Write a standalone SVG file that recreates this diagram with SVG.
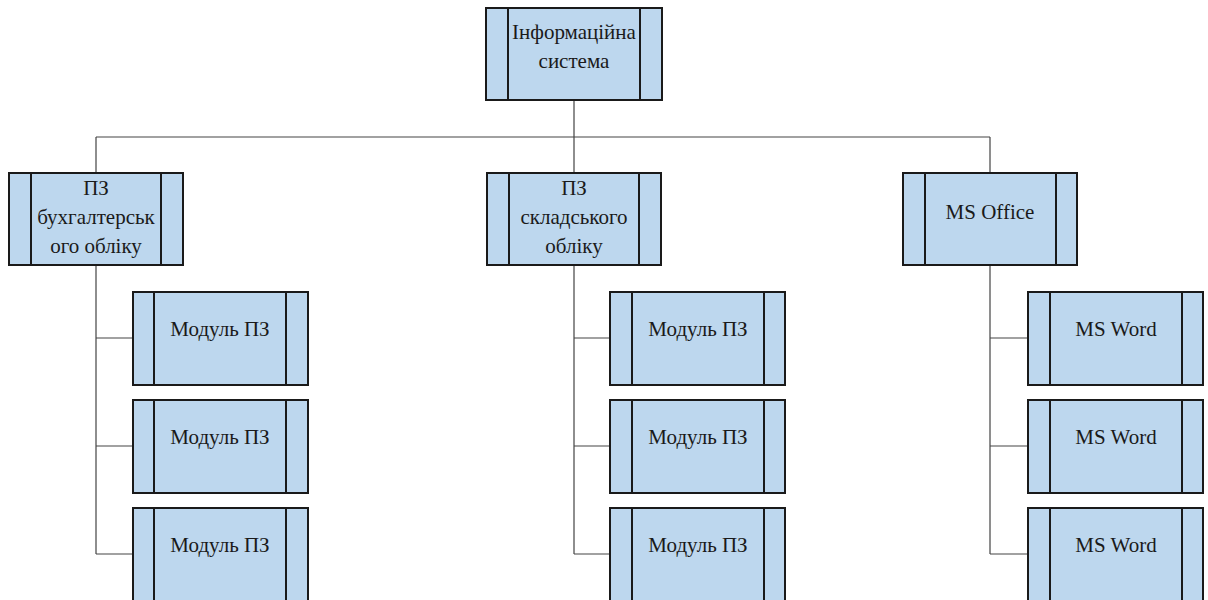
<svg xmlns="http://www.w3.org/2000/svg" width="1208" height="600" viewBox="0 0 1208 600">
<defs>
<style>
.box{fill:#bdd7ee;stroke:#1a1a1a;stroke-width:2}
.in{stroke:#1a1a1a;stroke-width:2}
.t{font-family:'Liberation Serif','DejaVu Serif',serif;font-size:21px;fill:#1a1a1a;text-anchor:middle}
.c{fill:none;stroke:#444;stroke-width:1.2}
</style>
</defs>
<rect width="1208" height="600" fill="#fff"/>
<g id="connectors">
<path class="c" d="M574 100V137M96 137H990M96 137V173M574 137V173M990 137V173"/>
<path class="c" d="M96 265V554M96 338H133M96 446H133M96 554H133"/>
<path class="c" d="M574 265V554M574 338H610M574 446H610M574 554H610"/>
<path class="c" d="M990 265V554M990 338H1028M990 446H1028M990 554H1028"/>
</g>
<g id="n-root"><rect class="box" x="486" y="8" width="176" height="92"/><path class="in" d="M508 8V100M640 8V100"/><text class="t" x="574" y="39">Інформаційна</text><text class="t" x="574" y="68">система</text></g>
<g id="n-buh"><rect class="box" x="9" y="173" width="174" height="92"/><path class="in" d="M31 173V265M161 173V265"/><text class="t" x="96" y="195">ПЗ</text><text class="t" x="96" y="224">бухгалтерськ</text><text class="t" x="96" y="253">ого обліку</text></g>
<g id="n-skl"><rect class="box" x="487" y="173" width="174" height="92"/><path class="in" d="M509 173V265M639 173V265"/><text class="t" x="574" y="195">ПЗ</text><text class="t" x="574" y="224">складського</text><text class="t" x="574" y="253">обліку</text></g>
<g id="n-office"><rect class="box" x="903" y="173" width="174" height="92"/><path class="in" d="M925 173V265M1056 173V265"/><text class="t" x="990" y="219">MS Office</text></g>
<g id="n-m1"><rect class="box" x="133" y="292" width="175" height="93"/><path class="in" d="M154 292V385M286 292V385"/><text class="t" x="220" y="336">Модуль ПЗ</text></g>
<g id="n-m2"><rect class="box" x="133" y="400" width="175" height="93"/><path class="in" d="M154 400V493M286 400V493"/><text class="t" x="220" y="444">Модуль ПЗ</text></g>
<g id="n-m3"><rect class="box" x="133" y="508" width="175" height="93"/><path class="in" d="M154 508V601M286 508V601"/><text class="t" x="220" y="552">Модуль ПЗ</text></g>
<g id="n-m4"><rect class="box" x="610" y="292" width="175" height="93"/><path class="in" d="M632 292V385M764 292V385"/><text class="t" x="698" y="336">Модуль ПЗ</text></g>
<g id="n-m5"><rect class="box" x="610" y="400" width="175" height="93"/><path class="in" d="M632 400V493M764 400V493"/><text class="t" x="698" y="444">Модуль ПЗ</text></g>
<g id="n-m6"><rect class="box" x="610" y="508" width="175" height="93"/><path class="in" d="M632 508V601M764 508V601"/><text class="t" x="698" y="552">Модуль ПЗ</text></g>
<g id="n-w1"><rect class="box" x="1028" y="292" width="175" height="93"/><path class="in" d="M1050 292V385M1182 292V385"/><text class="t" x="1116" y="336">MS Word</text></g>
<g id="n-w2"><rect class="box" x="1028" y="400" width="175" height="93"/><path class="in" d="M1050 400V493M1182 400V493"/><text class="t" x="1116" y="444">MS Word</text></g>
<g id="n-w3"><rect class="box" x="1028" y="508" width="175" height="93"/><path class="in" d="M1050 508V601M1182 508V601"/><text class="t" x="1116" y="552">MS Word</text></g>
</svg>
